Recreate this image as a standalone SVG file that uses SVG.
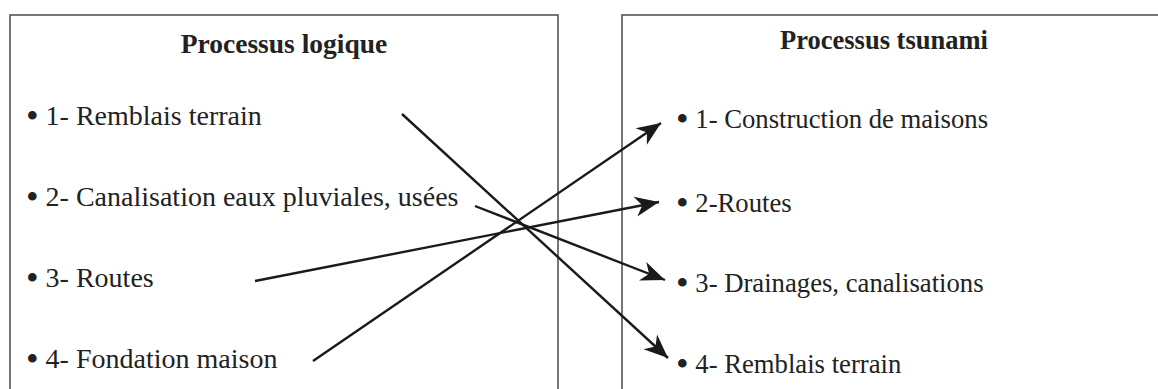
<svg xmlns="http://www.w3.org/2000/svg" width="1158" height="389" viewBox="0 0 1158 389">
  <style>
    .box { fill: none; stroke: #4a4a4a; stroke-width: 1.5; }
    .title { font-family: "Liberation Serif", "Times New Roman", serif; font-weight: bold; fill: #222; text-anchor: middle; }
    .item { font-family: "Liberation Serif", "Times New Roman", serif; fill: #222; }
    .bul { font-size: 36px; }
    .conn { stroke: #1a1a1a; stroke-width: 2.4; fill: none; marker-end: url(#arrow); }
  </style>
  <defs>
    <marker id="arrow" markerUnits="userSpaceOnUse" markerWidth="28" markerHeight="24" viewBox="-26 -12 28 24" refX="0" refY="0" orient="auto">
      <path d="M0,0 L-24,-10 L-17,0 L-24,10 Z" fill="#1a1a1a"/>
    </marker>
  </defs>
  <rect width="1158" height="389" fill="#fff"/>

  <g id="left-box">
    <rect class="box" x="10" y="15" width="548" height="400"/>
    <text class="title" x="284" y="53" font-size="27.5">Processus logique</text>
    <text class="item" x="26" y="125" font-size="28"><tspan class="bul" dy="3">•</tspan><tspan dy="-3"> 1- Remblais terrain</tspan></text>
    <text class="item" x="26" y="206" font-size="28"><tspan class="bul" dy="3">•</tspan><tspan dy="-3"> 2- Canalisation eaux pluviales, usées</tspan></text>
    <text class="item" x="26" y="287" font-size="28"><tspan class="bul" dy="3">•</tspan><tspan dy="-3"> 3- Routes</tspan></text>
    <text class="item" x="26" y="368" font-size="28"><tspan class="bul" dy="3">•</tspan><tspan dy="-3"> 4- Fondation maison</tspan></text>
  </g>

  <g id="right-box">
    <rect class="box" x="622" y="15" width="600" height="400"/>
    <text class="title" x="884" y="49" font-size="26.5">Processus tsunami</text>
    <text class="item" x="676" y="128" font-size="26.7"><tspan class="bul" dy="3">•</tspan><tspan dy="-3"> 1- Construction de maisons</tspan></text>
    <text class="item" x="676" y="212" font-size="26.7"><tspan class="bul" dy="3">•</tspan><tspan dy="-3"> 2-Routes</tspan></text>
    <text class="item" x="676" y="292" font-size="26.7"><tspan class="bul" dy="3">•</tspan><tspan dy="-3"> 3- Drainages, canalisations</tspan></text>
    <text class="item" x="676" y="373" font-size="26.7"><tspan class="bul" dy="3">•</tspan><tspan dy="-3"> 4- Remblais terrain</tspan></text>
  </g>

  <g id="connectors">
    <line class="conn" x1="402" y1="114" x2="668" y2="358"/>
    <line class="conn" x1="475" y1="206" x2="665" y2="280"/>
    <line class="conn" x1="255" y1="281" x2="659" y2="202"/>
    <line class="conn" x1="313" y1="361" x2="661" y2="123"/>
  </g>
</svg>
